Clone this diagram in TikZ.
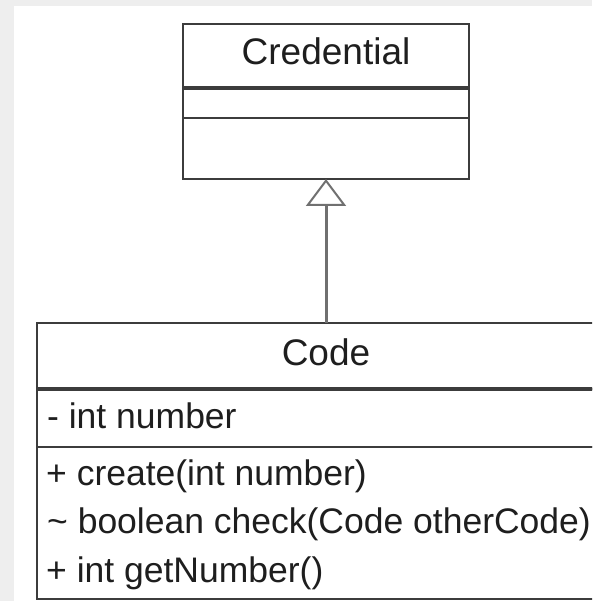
\documentclass[tikz,border=0pt]{standalone}
\usepackage{fontspec}
\setmainfont{Liberation Sans}
\usepackage{xcolor}
\usetikzlibrary{arrows.meta,positioning}
\definecolor{umlline}{HTML}{3C3C3C}
\definecolor{umlarrow}{HTML}{707070}
\definecolor{umltext}{HTML}{1E1E1E}
\definecolor{pagegray}{HTML}{EEEEEE}
\tikzset{
  credbox/.style={draw=umlline,line width=2pt,fill=white,minimum width=286pt,inner sep=0pt,outer sep=0pt},
  codebox/.style={credbox,minimum width=578pt},
  title/.style={font=\fontsize{37}{44}\selectfont,text=umltext,text height=26pt,text depth=8pt},
  member/.style={anchor=base west,font=\fontsize{35.5}{42}\selectfont,text=umltext,inner sep=0pt},
  sepline/.style={draw=umlline,line width=3.5pt},
  inherit/.style={-{Triangle[open,length=27pt,width=40pt,line width=2pt]},draw=umlarrow,line width=3pt},
}

\begin{document}
\begin{tikzpicture}[x=1pt,y=1pt]
\useasboundingbox (0,0) rectangle (592,-601);
\clip (0,0) rectangle (592,-601);
\fill[pagegray] (0,0) rectangle (592,-601);
\fill[white] (14,-6) rectangle (600,-610);
% Credential class
\node[credbox,title,minimum height=64pt] (credtitle) at (326,-56) {Credential};
\node[credbox,minimum height=30pt,below=0pt of credtitle] (credattr) {};
\node[credbox,minimum height=61pt,below=0pt of credattr] (credops) {};
\draw[sepline] (credtitle.south west) -- (credtitle.south east);
% Code class
\node[codebox,title,minimum height=66pt] (codetitle) at (326,-356) {Code};
\node[codebox,minimum height=58pt,below=0pt of codetitle] (codeattr) {};
\node[codebox,minimum height=152pt,below=0pt of codeattr] (codeops) {};
\draw[sepline] (codetitle.south west) -- (codetitle.south east);
\node[member] (attr1) at ([xshift=10pt,yshift=-39pt]codeattr.north west) {- int number};
\node[member] (op1) at ([xshift=9pt,yshift=-38pt]codeops.north west) {+ create(int number)};
\node[member] (op2) at ([xshift=10pt,yshift=-86pt]codeops.north west) {\char`\~{} boolean check(Code otherCode)};
\node[member] (op3) at ([xshift=9pt,yshift=-135pt]codeops.north west) {+ int getNumber()};
% generalisation
\draw[inherit] (codetitle.north) -- (credops.south);
\end{tikzpicture}
\end{document}
